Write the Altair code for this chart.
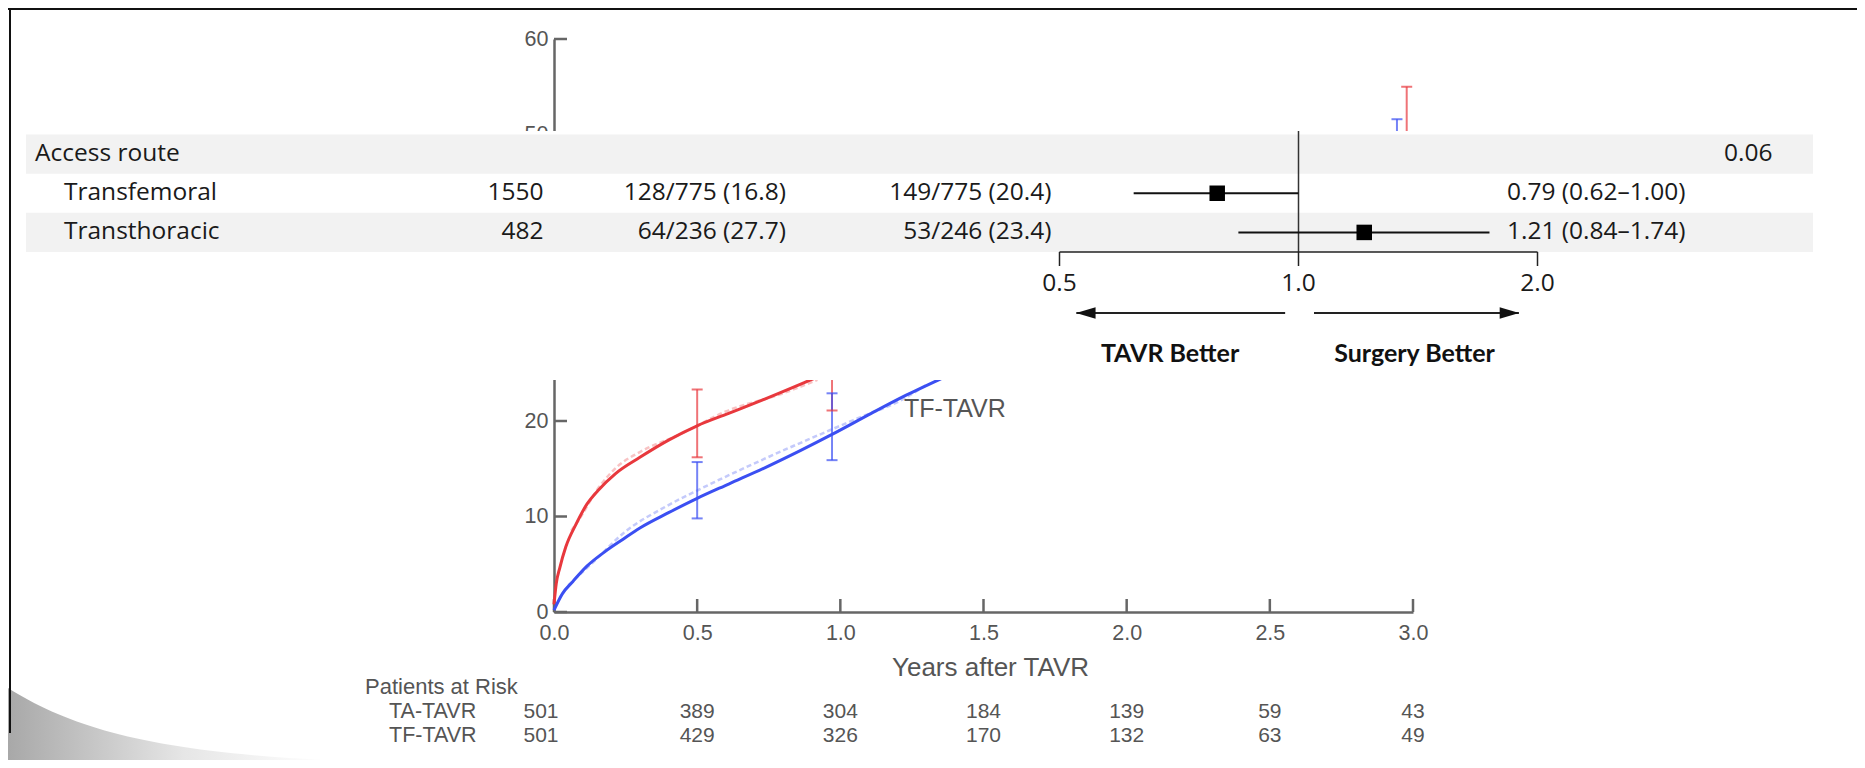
import altair as alt
import pandas as pd

W, H = 1849, 752

# ---------------- Kaplan-Meier panel data ----------------
ta_time = [0.0, 0.008, 0.02, 0.041, 0.078, 0.115, 0.153, 0.215, 0.30, 0.40, 0.50, 0.61, 0.736, 0.872, 0.95]
ta_rate = [0.8, 3.0, 4.6, 6.8, 9.25, 11.3, 12.7, 14.5, 16.2, 18.0, 19.5, 20.8, 22.3, 24.0, 25.0]
tf_time = [0.0, 0.029, 0.066, 0.115, 0.177, 0.24, 0.30, 0.40, 0.50, 0.61, 0.736, 0.86, 0.971, 1.108, 1.23, 1.356, 1.42]
tf_rate = [0.2, 1.9, 3.2, 4.8, 6.3, 7.6, 8.8, 10.4, 11.9, 13.4, 15.1, 16.9, 18.6, 20.8, 22.7, 24.5, 25.4]

# faint observed (step) estimates drawn next to the fitted curves
ta_obs_time = [0.06, 0.09, 0.153, 0.22, 0.30, 0.44, 0.60, 0.80, 0.92]
ta_obs_rate = [8.5, 9.8, 12.9, 15.2, 16.75, 18.6, 21.0, 22.9, 24.3]
tf_obs_time = [0.05, 0.15, 0.24, 0.388, 0.512, 0.736, 1.046, 1.232, 1.30]
tf_obs_rate = [2.8, 5.6, 8.2, 11.0, 12.9, 16.05, 20.1, 22.5, 23.8]

# confidence bars
bar_series = ["TA-TAVR", "TA-TAVR", "TA-TAVR", "TF-TAVR", "TF-TAVR", "TF-TAVR"]
bar_time = [0.50, 0.971, 2.978, 0.50, 0.971, 2.944]
bar_low = [16.2, 21.1, 41.0, 9.8, 15.9, 38.0]
bar_high = [23.3, 30.0, 55.0, 15.7, 22.9, 51.6]

x_ticks = [0.0, 0.5, 1.0, 1.5, 2.0, 2.5, 3.0]
y_ticks = [0, 10, 20, 30, 40, 50, 60]
y_tick_labels_shown = [0, 10, 20, 50, 60]   # 30 and 40 sit under the forest panel

curve_label = ["TF-TAVR"]
curve_label_time = [1.40]
curve_label_rate = [21.3]

# patients at risk
risk_time = [0.0, 0.5, 1.0, 1.5, 2.0, 2.5, 3.0]
risk_ta = [501, 389, 304, 184, 139, 59, 43]
risk_tf = [501, 429, 326, 170, 132, 63, 49]
risk_groups = ["TA-TAVR", "TF-TAVR"]

# ---------------- forest plot data ----------------
rows = ["Access route", "Transfemoral", "Transthoracic"]
row_shaded = [True, False, True]
n_total = ["", "1550", "482"]
tavr_events = ["", "128/775 (16.8)", "64/236 (27.7)"]
surgery_events = ["", "149/775 (20.4)", "53/246 (23.4)"]
hr_text = ["", "0.79 (0.62–1.00)", "1.21 (0.84–1.74)"]
p_values = ["0.06", "", ""]

hr_rows = ["Transfemoral", "Transthoracic"]
hr_est = [0.79, 1.21]
hr_low = [0.62, 0.84]
hr_high = [1.00, 1.74]
hr_ref = [1.0]
hr_ticks = [0.5, 1.0, 2.0]
hr_tick_labels = ["0.5", "1.0", "2.0"]

arrow_from = [0.962, 1.046]
arrow_to = [0.525, 1.895]
arrow_dir = ["left", "right"]
better_text = ["TAVR Better", "Surgery Better"]
better_pos = [0.689, 1.40]

# ---------------- styles ----------------
RED, BLUE = "#e8383d", "#3b4ff2"
KM_GRAY = "#555555"
KM_FONT = "Liberation Sans"
FP_FONT = "Open Sans"
FP_SIZE = 24.5
FP_INK = "#1a1a1a"

series_color = alt.Scale(domain=["TA-TAVR", "TF-TAVR"], range=[RED, BLUE])

km_x_scale = alt.Scale(domain=[0, 3], range=[546, 1405], nice=False, zero=False)
km_y_scale = alt.Scale(domain=[0, 60], range=[604, 31], nice=False)

km_x_axis = alt.Axis(orient="bottom", offset=-(H - 604), values=x_ticks, format=".1f",
                     ticks=False, tickSize=0, grid=False, labelFlush=False,
                     domainColor="#666666", domainWidth=2.5,
                     labelFont=KM_FONT, labelFontSize=21.5, labelColor=KM_GRAY, labelPadding=10,
                     title="Years after TAVR", titleFont=KM_FONT, titleFontSize=26,
                     titleFontWeight="normal", titleColor=KM_GRAY, titlePadding=11, titleX=982)
km_y_axis = alt.Axis(orient="left", offset=-546, values=y_tick_labels_shown, format="d",
                     ticks=False, tickSize=0, grid=False, labelFlush=False,
                     domainColor="#666666", domainWidth=2.5,
                     labelFont=KM_FONT, labelFontSize=21.5, labelColor=KM_GRAY, labelPadding=6,
                     title=None)


def kx(field):
    return alt.X(field, type="quantitative", scale=km_x_scale, axis=km_x_axis)


def ky(field):
    return alt.Y(field, type="quantitative", scale=km_y_scale, axis=km_y_axis)


curves = pd.concat([
    pd.DataFrame({"t": ta_time, "v": ta_rate, "s": "TA-TAVR"}),
    pd.DataFrame({"t": tf_time, "v": tf_rate, "s": "TF-TAVR"}),
])
obs = pd.concat([
    pd.DataFrame({"t": ta_obs_time, "v": ta_obs_rate, "s": "TA-TAVR"}),
    pd.DataFrame({"t": tf_obs_time, "v": tf_obs_rate, "s": "TF-TAVR"}),
])
bars = pd.DataFrame({"s": bar_series, "t": bar_time, "lo": bar_low, "hi": bar_high})
caps = pd.concat([
    bars[["s", "t"]].assign(v=bars["lo"]),
    bars[["s", "t"]].assign(v=bars["hi"]),
])

color_enc = alt.Color("s:N", scale=series_color, legend=None)

obs_layer = alt.Chart(obs).mark_line(strokeWidth=2.5, opacity=0.3, strokeDash=[5, 3],
                                     interpolate="monotone").encode(
    x=kx("t"), y=ky("v"), color=color_enc, detail="s:N")
curve_layer = alt.Chart(curves).mark_line(strokeWidth=3, interpolate="monotone").encode(
    x=kx("t"), y=ky("v"), color=color_enc, detail="s:N")
bar_layer = alt.Chart(bars).mark_rule(strokeWidth=2, opacity=0.7).encode(
    x=kx("t"), y=ky("lo"), y2="hi:Q", color=color_enc)
cap_layer = alt.Chart(caps).mark_tick(orient="horizontal", size=11, thickness=2, opacity=0.7).encode(
    x=kx("t"), y=ky("v"), color=color_enc)
xtick_layer = alt.Chart(pd.DataFrame({"t": x_ticks})).mark_rule(strokeWidth=2.5, color="#666666").encode(
    x=kx("t"), y=alt.value(604), y2=alt.value(591))
ytick_layer = alt.Chart(pd.DataFrame({"v": y_ticks})).mark_rule(strokeWidth=2.5, color="#666666").encode(
    y=ky("v"), x=alt.value(546), x2=alt.value(559))
label_layer = alt.Chart(pd.DataFrame({"t": curve_label_time, "v": curve_label_rate, "txt": curve_label})).mark_text(
    font=KM_FONT, fontSize=25, color=KM_GRAY, align="center", baseline="middle").encode(
    x=kx("t"), y=ky("v"), text="txt:N")

km = alt.layer(xtick_layer, ytick_layer, obs_layer, bar_layer, cap_layer, curve_layer, label_layer)

# ---------------- patients at risk ----------------
risk = pd.concat([
    pd.DataFrame({"t": risk_time, "n": risk_ta, "g": "TA-TAVR"}),
    pd.DataFrame({"t": risk_time, "n": risk_tf, "g": "TF-TAVR"}),
])
risk_row_scale = alt.Scale(type="point", domain=risk_groups, range=[704, 728], padding=0)
risk_style = dict(font=KM_FONT, fontSize=21, color=KM_GRAY, align="center", baseline="middle")
risk_first = alt.Chart(risk).transform_filter("datum.t == 0").mark_text(dx=-13, **risk_style).encode(
    x=alt.X("t:Q", scale=km_x_scale, axis=None),
    y=alt.Y("g:N", scale=risk_row_scale, axis=None),
    text="n:Q")
risk_rest = alt.Chart(risk).transform_filter("datum.t > 0").mark_text(**risk_style).encode(
    x=alt.X("t:Q", scale=km_x_scale, axis=None),
    y=alt.Y("g:N", scale=risk_row_scale, axis=None),
    text="n:Q")
risk_names = alt.Chart(pd.DataFrame({"g": risk_groups})).mark_text(
    font=KM_FONT, fontSize=21.5, color=KM_GRAY, align="left", baseline="middle").encode(
    x=alt.value(381), y=alt.Y("g:N", scale=risk_row_scale, axis=None), text="g:N")
risk_title = alt.Chart(pd.DataFrame({"txt": ["Patients at Risk"]})).mark_text(
    font=KM_FONT, fontSize=22, color=KM_GRAY, align="left", baseline="middle").encode(
    x=alt.value(357), y=alt.value(679), text="txt:N")
risk_block = alt.layer(risk_first, risk_rest, risk_names, risk_title)

# ---------------- slide frame and overlay panel ----------------
frame_top = alt.Chart(pd.DataFrame({"k": [0]})).mark_rule(color="#111111", strokeWidth=2).encode(
    x=alt.value(0), x2=alt.value(W), y=alt.value(1))
frame_left = alt.Chart(pd.DataFrame({"k": [0]})).mark_rule(color="#111111", strokeWidth=2).encode(
    x=alt.value(2), y=alt.value(0), y2=alt.value(725))
shadow = alt.Chart(pd.DataFrame({"k": [0]})).mark_point(
    shape="M-1,0.55C-0.6,0.8 -0.1,0.95 1,1L-1,1Z", size=102400, filled=True, opacity=1, strokeWidth=0,
    fill=alt.Gradient(gradient="linear", x1=0, x2=1, y1=0, y2=0,
                      stops=[alt.GradientStop(color="#a8a8a8", offset=0),
                             alt.GradientStop(color="#e6e6e6", offset=0.55),
                             alt.GradientStop(color="#ffffff", offset=1)])).encode(
    x=alt.value(160), y=alt.value(H - 160))
overlay = alt.Chart(pd.DataFrame({"k": [0]})).mark_rect(color="white").encode(
    x=alt.value(18), x2=alt.value(1814), y=alt.value(123), y2=alt.value(372))

# ---------------- forest plot ----------------
row_scale = alt.Scale(type="band", domain=rows, range=[126.5, 244], paddingInner=0, paddingOuter=0)
hr_scale = alt.Scale(type="log", domain=[0.5, 2.0], range=[1051.5, 1529.5], nice=False)


def fy():
    return alt.Y("row:N", scale=row_scale, axis=None)


def fx(field):
    return alt.X(field, type="quantitative", scale=hr_scale, axis=None)


table = pd.DataFrame({"row": rows, "shaded": row_shaded, "n": n_total, "tavr": tavr_events,
                      "surg": surgery_events, "hr": hr_text, "p": p_values})

bands = alt.Chart(table).transform_filter("datum.shaded").mark_rect(color="#f2f2f2").encode(
    x=alt.value(18), x2=alt.value(1805), y=fy())

text_style = dict(font=FP_FONT, fontSize=FP_SIZE, color=FP_INK, baseline="middle")
group_text = alt.Chart(table).transform_filter("datum.row == 'Access route'").mark_text(
    align="left", **text_style).encode(x=alt.value(27), y=fy(), text="row:N")
sub_text = alt.Chart(table).transform_filter("datum.row != 'Access route'").mark_text(
    align="left", **text_style).encode(x=alt.value(56), y=fy(), text="row:N")

col_layers = []
for col, xpos in [("n", 535.5), ("tavr", 778), ("surg", 1043.5), ("hr", 1677.5), ("p", 1764.5)]:
    col_layers.append(
        alt.Chart(table).transform_filter(f"datum.{col} != ''").mark_text(
            align="right", **text_style).encode(x=alt.value(xpos), y=fy(), text=f"{col}:N"))

est = pd.DataFrame({"row": hr_rows, "hr": hr_est, "lo": hr_low, "hi": hr_high})
ci_layer = alt.Chart(est).mark_rule(color="#111111", strokeWidth=2).encode(
    x=fx("lo"), x2="hi:Q", y=fy())
sq_layer = alt.Chart(est).mark_square(color="#000000", size=240, opacity=1).encode(
    x=fx("hr"), y=fy())
ref_layer = alt.Chart(pd.DataFrame({"ref": hr_ref})).mark_rule(color="#333333", strokeWidth=1.5).encode(
    x=fx("ref"), y=alt.value(123), y2=alt.value(244))

# hazard-ratio axis (drawn on the log scale)
ticks_df = pd.DataFrame({"tick": hr_ticks, "lab": hr_tick_labels})
axis_line = alt.Chart(pd.DataFrame({"a": [hr_ticks[0]], "b": [hr_ticks[-1]]})).mark_rule(
    color="#222222", strokeWidth=1.5).encode(x=fx("a"), x2="b:Q", y=alt.value(244))
axis_ticks = alt.Chart(ticks_df).mark_rule(color="#222222", strokeWidth=1.5).encode(
    x=fx("tick"), y=alt.value(244), y2=alt.value(258))
axis_labels = alt.Chart(ticks_df).mark_text(
    font=FP_FONT, fontSize=FP_SIZE, color=FP_INK, align="center", baseline="middle").encode(
    x=fx("tick"), y=alt.value(276), text="lab:N")

arrows = pd.DataFrame({"a": arrow_from, "b": arrow_to, "d": arrow_dir})
arrow_lines = alt.Chart(arrows).mark_rule(color="#222222", strokeWidth=1.8).encode(
    x=fx("a"), x2="b:Q", y=alt.value(305))
head_left = alt.Chart(arrows).transform_filter("datum.d == 'left'").mark_point(
    shape="M-1,0L1,-0.6L1,0.6Z", filled=True, size=380, color="#111111", opacity=1, xOffset=9.5).encode(
    x=fx("b"), y=alt.value(305))
head_right = alt.Chart(arrows).transform_filter("datum.d == 'right'").mark_point(
    shape="M1,0L-1,-0.6L-1,0.6Z", filled=True, size=380, color="#111111", opacity=1, xOffset=-9.5).encode(
    x=fx("b"), y=alt.value(305))
better = alt.Chart(pd.DataFrame({"x": better_pos, "txt": better_text})).mark_text(
    font="Lato", fontSize=25, fontWeight="bold", color="#111111", align="center", baseline="middle").encode(
    x=fx("x"), y=alt.value(346), text="txt:N")

forest = alt.layer(bands, group_text, sub_text, *col_layers, ref_layer, ci_layer, sq_layer,
                   axis_line, axis_ticks, axis_labels,
                   arrow_lines, head_left, head_right, better)

chart = alt.layer(shadow, frame_top, frame_left, km, risk_block, overlay, forest).resolve_scale(
    x="independent", y="independent", color="independent"
).properties(
    width=W, height=H, autosize=alt.AutoSizeParams(type="none"), padding=0, background="white"
).configure_view(strokeWidth=0)

chart.save("out.html", embed_options={"renderer": "svg", "actions": False})
